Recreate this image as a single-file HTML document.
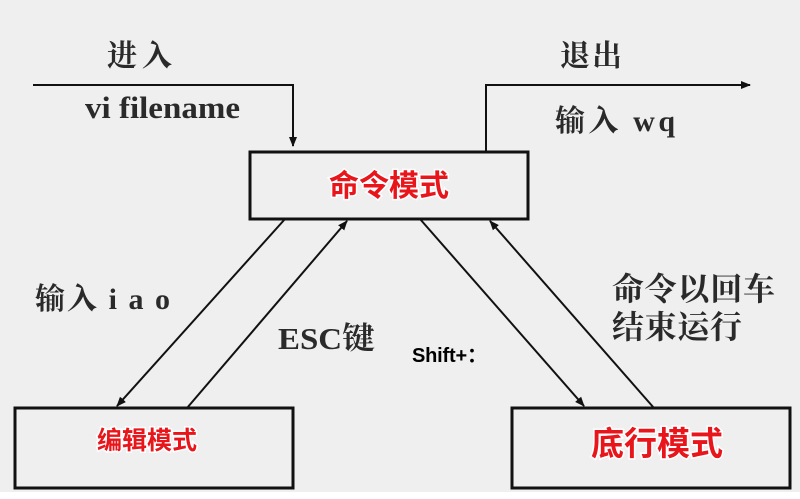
<!DOCTYPE html>
<html><head><meta charset="utf-8"><style>
html,body{margin:0;padding:0;}
body{width:800px;height:499px;background:#fff;overflow:hidden;}
svg{display:block}
.s{font-family:"Liberation Serif","Noto Serif CJK SC",serif;fill:#2a2a2a;font-weight:bold;}
.r{font-family:"Liberation Sans","Noto Sans CJK SC",sans-serif;fill:#e8151b;stroke:#fff;stroke-width:3px;paint-order:stroke;font-weight:bold;}
</style></head><body>
<svg width="800" height="499" viewBox="0 0 800 499">
<defs><marker id="a" markerWidth="10" markerHeight="10" refX="9" refY="5" orient="auto" markerUnits="userSpaceOnUse"><path d="M0,1 L10,5 L0,9 z" fill="#111"/></marker></defs>
<rect x="0" y="0" width="800" height="492" fill="#efefef"/>
<g stroke="#111" stroke-width="2" fill="none">
<polyline points="33,85 293,85 293,146" marker-end="url(#a)"/>
<polyline points="486,151 486,85 750,85" marker-end="url(#a)"/>
<line x1="285" y1="219" x2="117" y2="406" marker-end="url(#a)"/>
<line x1="187" y1="408" x2="347" y2="221" marker-end="url(#a)"/>
<line x1="420" y1="219" x2="584" y2="406" marker-end="url(#a)"/>
<line x1="654" y1="408" x2="490" y2="221" marker-end="url(#a)"/>
</g>
<g stroke="#111" stroke-width="3" fill="#efefef">
<rect x="250" y="152" width="278" height="67"/>
<rect x="15" y="408" width="278" height="80"/>
<rect x="512" y="408" width="278" height="80"/>
</g>
<text class="s" x="107" y="66" font-size="30" textLength="65">进入</text>
<text class="s" x="85" y="118" font-size="31" textLength="155" lengthAdjust="spacingAndGlyphs">vi filename</text>
<text class="s" x="560" y="66" font-size="30" textLength="62">退出</text>
<text class="s" x="555" y="131" font-size="30" textLength="120">输入 wq</text>
<text class="s" x="35" y="309" font-size="30" textLength="135">输入 i a o</text>
<text class="s" x="278" y="349" font-size="31" textLength="97" lengthAdjust="spacingAndGlyphs">ESC键</text>
<text x="412" y="362" font-size="20" font-weight="bold" font-family="Liberation Sans,Noto Sans CJK SC,sans-serif" fill="#000" textLength="75">Shift+：</text>
<text class="s" x="612" y="300" font-size="32" textLength="163">命令以回车</text>
<text class="s" x="612" y="338" font-size="32" textLength="130">结束运行</text>
<text class="r" x="389" y="196" font-size="30" text-anchor="middle">命令模式</text>
<text class="r" x="147" y="449" font-size="25" text-anchor="middle">编辑模式</text>
<text class="r" x="657" y="455" font-size="33" text-anchor="middle">底行模式</text>
</svg>
</body></html>
